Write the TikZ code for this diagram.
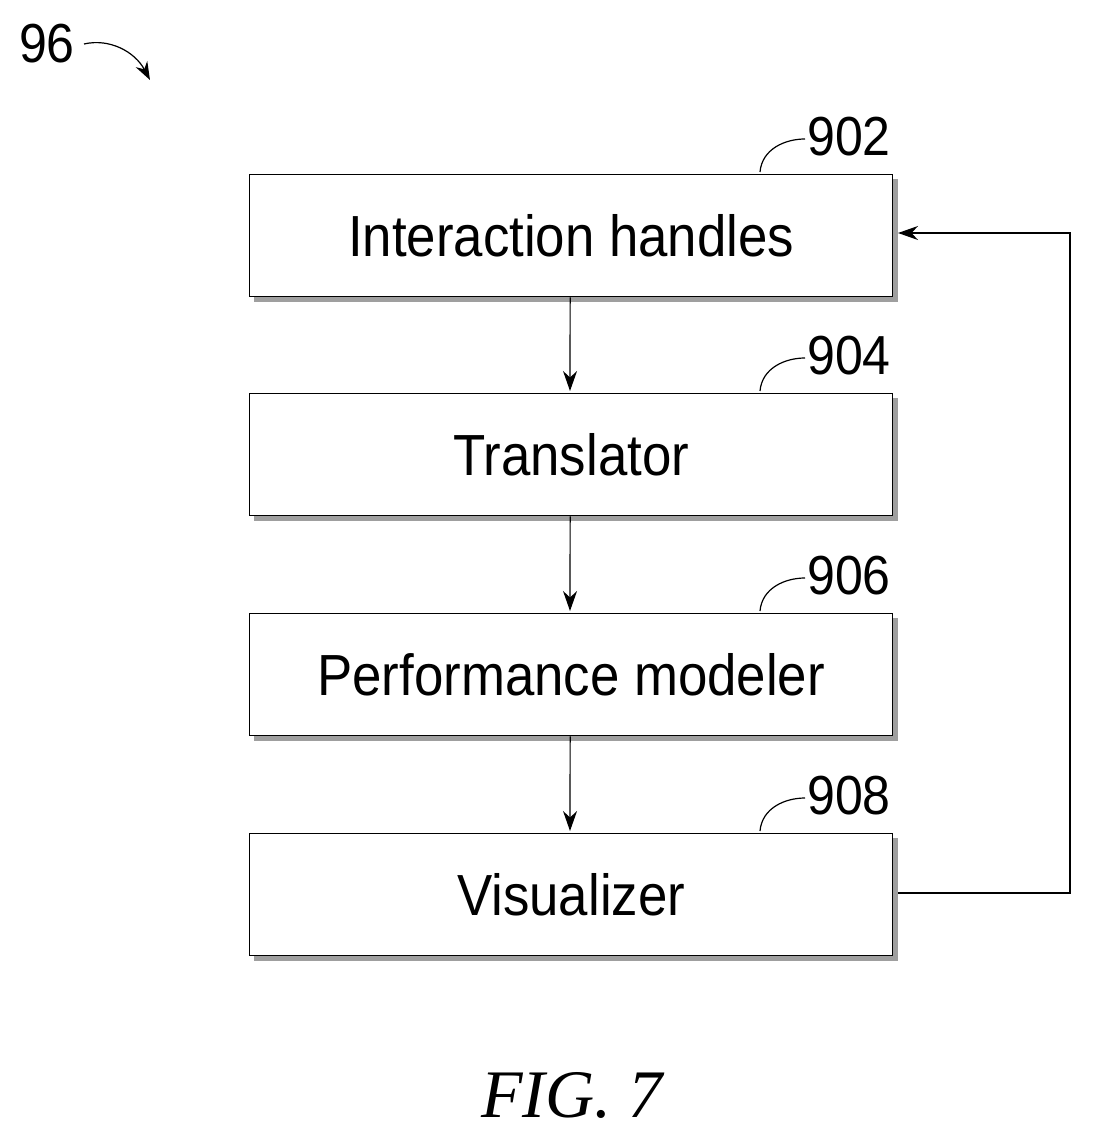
\documentclass[tikz,border=0pt]{standalone}
\usepackage{fontspec}
\setmainfont{Liberation Sans}
\newfontfamily\serifz{Liberation Serif}
\usetikzlibrary{arrows.meta}
\begin{document}
\begin{tikzpicture}[x=1pt,y=-1pt,
  box/.style={draw,line width=1.3pt,minimum width=643pt,minimum height=122pt,anchor=north west,inner sep=0pt,
    font=\fontsize{58}{60}\selectfont},
  arr/.style={line width=1.2pt,-{Stealth[length=20pt,width=14pt]}},
  lbl/.style={font=\fontsize{55}{56}\selectfont,anchor=west,inner sep=0pt},
  lead/.style={line width=1.2pt}]
\useasboundingbox (0,0) rectangle (1093,1139);
\foreach \y in {174,393,613,833}{
  \fill[gray!75] (254,\y+122) rectangle (898,\y+128);
  \fill[gray!75] (892,\y+5) rectangle (898,\y+128);
}
\node[box] (a) at (249,174) {\scalebox{0.91}[1]{Interaction handles}};
\node[box] (b) at (249,393) {\scalebox{0.91}[1]{Translator}};
\node[box] (c) at (249,613) {\scalebox{0.91}[1]{Performance modeler}};
\node[box] (d) at (249,833) {\scalebox{0.91}[1]{Visualizer}};
\draw[arr] (a.south) ++(-1,0) -- (570,391);
\draw[arr] (b.south) ++(-1,0) -- (570,611);
\draw[arr] (c.south) ++(-1,0) -- (570,831);
\coordinate (r1) at (1070,893);
\coordinate (r2) at (1070,233);
\draw[arr] (898,893) -- (r1) -- (r2) -- (898,233);
\foreach \y/\t/\n in {174/902/la,393/904/lb,613/906/lc,833/908/ld}{
  \node[lbl] (\n) at (807,\y-37) {\scalebox{0.91}[1]{\t}};
  \draw[lead] (760,\y-2) .. controls (762,\y-25) and (785,\y-35) .. (805,\y-35);
}
\node[font=\fontsize{55}{56}\selectfont,inner sep=0pt] (n96) at (47,44) {\scalebox{0.91}[1]{96}};
\coordinate (t96) at (150,80);
\draw[line width=1.2pt,-{Stealth[length=18pt,width=13pt]}] (84,44) .. controls (110,38) and (135,52) .. (t96);
\node[font=\serifz\itshape\fontsize{68}{70}\selectfont,inner sep=0pt] (fig) at (572,1095) {FIG. 7};
\end{tikzpicture}
\end{document}
